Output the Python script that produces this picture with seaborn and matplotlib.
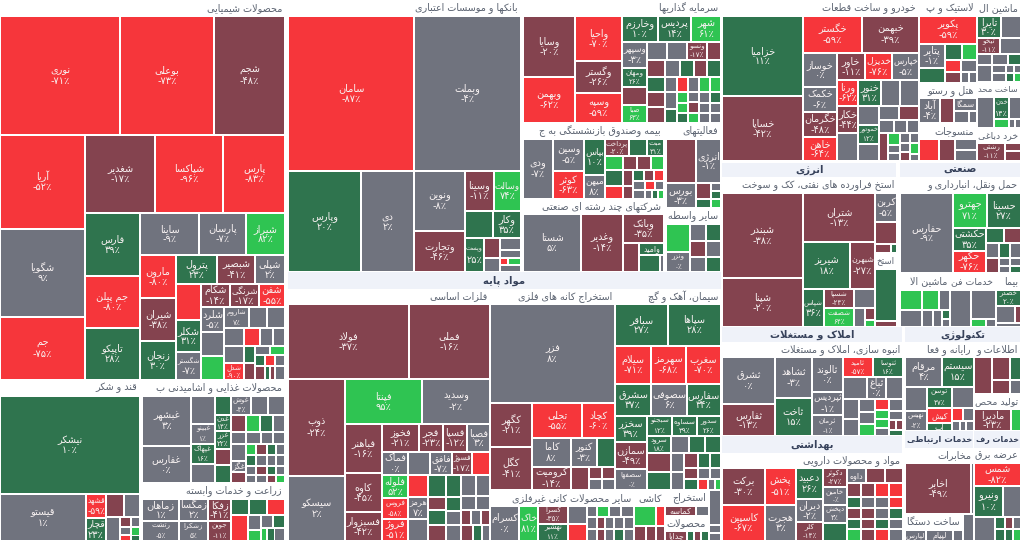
import matplotlib
matplotlib.use("Agg")
import matplotlib.pyplot as plt
import numpy as np
import pandas as pd
import seaborn as sns

# ---------- palette / value bins ----------
BIN_EDGES = [-50, -10, 10, 50]
PALETTE = sns.color_palette(["#F6363B", "#84434F", "#70737E", "#2F744E", "#2FC452"])
M, G, D, B, X = -30, 0, 30, 70, -70   # estimated change of cells without a readable label

# ---------- tree helpers ----------
def H(*c): return ("h", c)
def V(*c): return ("v", c)
def c(name, pct, area): return ("cell", name, pct, area)
def u(pct, area): return ("cell", "", pct, area)
def head(t, area): return ("head", t, area)
def band(t, area): return ("band", t, area)
def gap(area): return ("gap", area)

# ---------- data: chemical ----------
chem_rest = H(
    V(c("شلرد", -5, 575), u(G, 552), u(B, 552)),
    V(H(c("شاروم", 7, 525), u(G, 378), u(G, 378)),
      H(u(G, 360), u(X, 288), u(G, 234), u(G, 216)),
      H(V(u(G, 340), c("شدل", -90, 340)),
        V(u(D, 187), u(M, 187)),
        V(H(u(G, 135), u(B, 135)),
          H(u(D, 110), u(X, 110), u(G, 110)),
          H(u(M, 140), u(D, 70), u(M, 70), u(G, 140))))))
chem_small = H(
    V(u(X, 900), c("شکلر", 31, 800), c("شگستر", -7, 700)),
    V(H(c("شکام", -14, 667), c("شرنگی", -17, 667), c("شفن", -55, 598)), chem_rest))
chem_mid = H(
    V(c("مارون", -80, 1548), c("شیران", -38, 1548), c("زنجان", 30, 1404)),
    V(H(c("پترول", 23, 1189), c("شبصیر", -41, 1102), c("شپلی", 2, 870)), chem_small))
chemical = V(
    head("محصولات شیمیایی", 4560),
    H(c("نوری", -71, 14280), c("بوعلی", -73, 11186), c("شجم", -48, 8449)),
    H(V(c("آریا", -52, 7990), c("شگویا", 9, 7480), c("جم", -75, 5355)),
      V(H(c("شغدیر", -17, 5460), c("شپاکسا", -96, 5304), c("پارس", -83, 4836)),
        H(V(c("فارس", 39, 3465), c("جم پیلن", -80, 2860), c("تاپیکو", 28, 2860)),
          V(H(c("ساینا", -9, 2478), c("پارسان", -7, 1974), c("شیراز", 82, 1638)), chem_mid)))))

# ---------- data: sugar, food, farming ----------
sugar = V(
    head("قند و شکر", 2240),
    c("نیشکر", 10, 13720),
    H(c("قیستو", 1, 4042),
      V(c("قشهد", -59, 480), c("قچار", 23, 460)),
      V(H(u(M, 414), u(G, 368)),
        H(u(G, 336),
          V(u(M, 110), u(G, 90), u(X, 64)),
          V(u(G, 90), u(B, 78), u(D, 48))))))
food_tail = V(
    H(u(B, 110), u(M, 121), u(D, 99), u(G, 99)),
    H(u(D, 110), u(G, 121), u(G, 99), u(G, 99)),
    H(u(G, 90), u(M, 99), u(D, 81), u(G, 81)),
    H(u(G, 80), u(G, 88), u(M, 72), u(B, 72)))
food = V(
    head("محصولات غذایی و اشامیدنی ب", 2288),
    H(V(c("غبشهر", 3, 2450), c("غفارس", 0, 1813)),
      V(u(G, 672), c("غبینو", 1, 480), c("غپهاک", 16, 480), u(G, 456)),
      V(u(D, 304), c("غدن", 14, 256), c("غزر", 22, 288), u(M, 256), u(D, 288)),
      V(H(c("غوش", -4, 380), u(G, 323), u(G, 323)),
        H(u(M, 255), u(B, 238), u(D, 221), u(G, 204)),
        H(u(G, 180), u(G, 180), u(G, 144), u(G, 144)),
        H(V(u(G, 255), c("غگز", 0, 165), u(M, 165)), food_tail))),
    head("زراعت و خدمات وابسته", 2288),
    H(V(c("زماهان", 1, 814), c("رتشت", -5, 740)),
      V(c("زمگسا", 2, 638), c("زشکرا", 5, 580)),
      V(c("زفکا", -41, 506), c("جوین", -11, 460)),
      V(H(u(D, 288), u(D, 288), u(X, 288)),
        H(u(X, 442),
          V(u(G, 195), u(B, 143)),
          V(H(u(G, 156), u(D, 156)), H(u(B, 78), u(D, 100), u(G, 134)))))))

# ---------- data: banks ----------
banks = V(
    head("بانکها و موسسات اعتباری", 3728),
    H(c("سامان", -87, 19530), c("وبملت", -4, 16585)),
    H(c("وپارس", 20, 7373), c("دی", 2, 5353),
      V(c("ونوین", -8, 3060), c("وتجارت", -46, 2091)),
      V(H(c("وسینا", -11, 1160), c("وسالت", 74, 1080)),
        H(u(D, 756), c("وکار", 35, 756)),
        H(c("وپست", 25, 646),
          V(u(M, 320), u(G, 224)),
          V(u(G, 252), u(G, 168), H(u(X, 56), u(B, 91)), u(G, 147))))))

# ---------- data: investment group ----------
invest_small = V(
    H(u(G, 360), u(G, 360), c("ونسو", -17, 360), u(M, 252)),
    H(u(M, 306), u(G, 255), u(D, 238), u(M, 221), u(D, 238)),
    H(u(D, 270), u(G, 180), u(X, 165), u(G, 165), u(B, 165), u(B, 165)),
    H(V(u(M, 270), u(M, 288)), V(u(G, 204), u(D, 168)),
      V(u(B, 121), u(B, 110), u(D, 110)), V(u(G, 110), u(M, 121), u(B, 110)),
      V(H(u(G, 121), u(D, 121)), H(u(G, 110), u(G, 110)), H(u(G, 110), u(G, 110)))))
invest_top = H(
    V(c("وسایا", -20, 3172), c("وبهمن", -62, 2392)),
    V(c("واحیا", -70, 2115), c("وگستر", -26, 1504), c("وسپه", -59, 1410)),
    V(H(c("وخارزم", 10, 936), c("پردیس", 14, 858), c("شهر", 61, 780)),
      H(V(c("وسپهر", -3, 650), c("ومهان", 26, 475), u(M, 450), c("صبا", 63, 450)), invest_small)))
insurance = H(
    c("ودی", -7, 1800),
    V(c("وسین", -5, 992), c("کوثر", -63, 868)),
    V(c("بپاس", 10, 756), c("میهن", 8, 504)),
    V(H(c("پرداخت", -20, 408), u(D, 306), c("مبت", 31, 289)),
      H(u(B, 252), u(M, 196), u(M, 196), u(B, 182)),
      H(V(u(D, 288), u(X, 234)), V(u(M, 160), u(M, 130)),
        V(H(u(D, 121), u(M, 110), u(X, 110)),
          H(u(G, 108), u(X, 90), u(G, 81)),
          H(u(G, 108), u(G, 63), u(D, 54), u(B, 54))))))
holding = H(
    c("شستا", 5, 3364), c("وغدیر", -14, 2436),
    V(c("وبانک", -35, 1189),
      H(u(M, 464), V(c("وامید", 12, 300), H(u(D, 357), u(G, 68))))))
activity = V(
    head("فعالیتهای", 880),
    H(u(M, 1320), c("انرژی", -1, 1100)),
    H(c("بورس", -3, 750), V(u(M, 240), u(D, 135)), V(u(G, 80), u(D, 80), u(B, 90))),
    head("سایر واسطه", 880),
    H(V(u(B, 672), c("ونزر", 0, 480)),
      V(u(G, 272), u(M, 256), u(G, 240)),
      V(u(D, 255), u(G, 240), u(D, 225))))
invest = V(
    head("سرمایه گذاریها", 3168),
    invest_top,
    H(V(head("بیمه وصندوق بازنشستگی به ج", 2256), insurance,
        head("شرکتهای چند رشته ای صنعتی", 2115), holding),
      gap(298), activity))

# ---------- data: basic materials ----------
metal_tail = H(
    V(c("فلوله", 52, 598), c("فروس", -58, 546), c("فروژ", -51, 572)),
    V(u(X, 440), c("هرمز", 7, 440), u(G, 440)),
    V(u(D, 396), u(M, 234), u(D, 270), u(M, 288)),
    V(u(D, 330), u(D, 210), u(G, 210), u(G, 240)),
    V(H(u(G, 315), u(G, 294)), H(u(G, 210), u(G, 196)),
      H(u(M, 150), u(G, 150), u(M, 135)), H(u(M, 192), u(D, 144), u(G, 128))))
metals = V(
    head("فلزات اساسی", 3030),
    H(c("فولاد", -37, 9075), c("فملی", -16, 6075)),
    H(V(c("ذوب", -24, 5529), c("سیسکو", 2, 3705)),
      V(H(c("فپنتا", 95, 3465), c("وسدید", -2, 3060)),
        H(V(c("فباهنر", -16, 1813), c("کاوه", -45, 1443), c("فسبزوار", -42, 1073)),
          V(H(c("فخوز", -21, 1036), c("فجر", -23, 672), c("فسپا", -12, 672), c("فصبا", 3, 644)),
            H(c("فماک", 0, 598), u(G, 506), c("فافق", -7, 506), c("فسوژ", -17, 460), u(X, 414)),
            metal_tail)))))
mines = V(
    head("استخراج کانه های فلزی", 1875),
    c("فزر", 8, 12375),
    H(V(c("کگهر", -21, 1848), c("کگل", -41, 1806)),
      V(H(c("تجلی", -55, 1750), c("کچاد", -60, 1155)),
        H(c("کاما", 8, 1131), c("کنور", -3, 754), u(D, 522)),
        H(c("کرومیت", -14, 897), u(M, 414),
          V(H(u(M, 156), u(M, 156)), H(u(G, 143), u(G, 143)))))))
cement = V(
    head("سیمان، آهک و گچ", 1590),
    H(c("سباقر", 27, 2226), c("سپاها", 28, 2226)),
    H(c("سیلام", -71, 1368), c("سهرمز", -68, 1330), c("سغرب", -70, 1330)),
    H(c("سشرق", 37, 1152), c("سصوفی", 6, 1152), c("سفارس", 34, 1088)),
    H(V(c("سخزر", 39, 832), c("سمازن", -49, 864), c("سصفها", 0, 672)),
      V(H(c("سبجنو", 12, 500), c("سساوه", 39, 500), c("سدور", 26, 480)),
        H(c("سرود", 18, 408), u(G, 306), u(D, 272), u(D, 272)),
        H(V(u(M, 456), u(D, 432)), V(u(G, 247), u(G, 234)),
          V(H(u(M, 210), u(D, 180), u(D, 165)),
            H(u(M, 154), u(G, 132), u(G, 121)),
            H(u(D, 154), u(X, 110), u(G, 77), u(B, 66)))))))
nonmetal = V(
    head("سایر محصولات کانی غیرفلزی", 2304),
    H(c("کسرام", 0, 1015), c("خاک", 81, 665),
      V(c("کسرا", -35, 540), c("نهشیر", 11, 510)),
      V(u(G, 342), u(X, 323)),
      V(H(u(G, 110), u(B, 132), u(G, 132), u(G, 143)),
        H(u(G, 120), u(M, 96), u(G, 108), u(G, 120), u(G, 120)),
        H(u(G, 120), u(M, 96), u(G, 108), u(D, 120), u(G, 120)))))
tile = V(head("کاشی", 496), H(u(B, 440), u(X, 180)), H(u(M, 180), u(M, 150), u(M, 135)))
extract = V(head("استخراج", 704), H(c("کماسه", -30, 310), u(G, 130)),
            head("محصولات", 660), H(c("چدایا", -30, 220), u(D, 70), u(M, 70), u(D, 80)))
narrow = V(u(G, 420), u(G, 96), u(G, 96))
basic = V(
    band("مواد پایه", 7361),
    H(metals,
      V(H(mines, cement),
        H(nonmetal, tile, extract, narrow))))

# ---------- data: auto, tires, machinery ----------
auto_small = H(
    V(u(G, 399), c("خموتور", 12, 399), u(G, 357)),
    V(H(u(G, 280), u(M, 280)),
      H(u(G, 195), u(G, 169), u(G, 156)),
      H(u(M, 252), V(u(B, 144), u(G, 96), u(G, 96)),
        V(u(G, 100), u(G, 90), u(M, 90)), V(u(G, 90), u(B, 99), u(G, 63)))))
auto = V(
    head("خودرو و ساخت قطعات", 3152),
    H(V(c("خزامیا", 11, 6480), c("خساپا", -42, 5265)),
      V(H(c("خگستر", -59, 2183), c("خبهمن", -39, 2109)),
        H(V(c("خوساز", 0, 1156), c("خکمک", -6, 850), c("خگرمان", -48, 850), c("خاهن", -64, 816)),
          V(H(c("خاور", -11, 756), c("خدیزل", -76, 729), c("خپارس", -5, 729)),
            H(V(c("ورنا", -62, 546), c("خکار", -44, 567), u(G, 588)),
              V(H(c("خنور", 31, 598), u(G, 494), u(G, 494)), auto_small)))))))
tires = V(
    head("لاستیک و پ", 928),
    c("پکویر", -59, 1624),
    H(V(c("پتایر", -1, 624), u(D, 390)),
      V(H(u(D, 272), u(B, 240)), H(u(X, 192), u(G, 192)), H(u(M, 176), u(G, 88), u(G, 88)))),
    head("هتل و رستو", 870),
    H(c("آباد", -4, 525), u(M, 350), V(c("سمگا", 0, 299), H(u(G, 180), u(G, 96)))),
    head("منسوجات", 928),
    H(u(X, 440), u(M, 352), V(u(G, 242), u(G, 242))))
machine = V(
    head("ماشین ال", 704),
    H(c("تایرا", 30, 528), u(G, 440)),
    H(c("تیخو", -11, 368), u(G, 336)),
    H(V(u(G, 165), u(G, 255)),
      V(H(u(G, 176), u(D, 143)),
        H(V(u(G, 112), u(G, 126)), V(H(u(G, 64), u(G, 56)), H(u(D, 72), u(B, 63)))))),
    head("ساخت محد", 660),
    H(u(G, 527), V(c("خدن", 14, 330), u(B, 135)), V(u(G, 264), H(u(G, 54), u(G, 54)))),
    head("خرد دباغی", 660),
    H(c("رشتی", -11, 504), V(u(M, 128), u(M, 160))))

# ---------- data: energy, industrial ----------
energy = V(
    band("انرژی", 2450),
    head("استخ فراورده های نفتی، کک و سوخت", 2800),
    H(V(c("شبندر", -38, 6885), c("شپنا", -20, 3969)),
      V(c("شتران", -13, 3528),
        H(c("شیریز", 18, 2209), c("شبهرن", -27, 1175)),
        H(c("شپاس", 36, 798),
          V(c("شسپا", -24, 570), c("شصفت", 64, 570)),
          V(u(G, 399), H(u(G, 209), V(u(M, 120), u(B, 70)))))),
      V(c("کربن", -5, 638), u(M, 484), H(u(M, 144), u(D, 54)),
        head("استخ", 352), u(D, 1144), u(M, 132))))
transit = H(
    c("حفارس", -9, 4240),
    V(H(c("جهترو", 71, 1190), c("حسینا", 27, 1190)),
      H(V(c("حکشتی", 35, 759), c("حکهر", -76, 726)),
        V(H(u(D, 270), u(M, 255)),
          H(u(G, 195), u(D, 165), u(G, 165)),
          H(u(M, 195), V(u(G, 88), u(G, 77)), V(u(G, 88), u(D, 77)))))))
industrial = V(
    band("صنعتی", 1694),
    head("حمل ونقل، انبارداری و", 1936),
    transit,
    H(V(head("ماشین الا", 850),
        H(u(B, 440), u(B, 340), u(G, 220)),
        H(u(G, 374), u(G, 187), u(G, 153), V(u(D, 72), u(G, 64)))),
      V(head("خدمات فن", 782),
        H(u(G, 777), V(u(G, 725), H(u(B, 120), u(G, 80))))),
      V(head("بیما", 425),
        c("خصدر", 20, 400),
        H(u(G, 323), u(M, 102)),
        u(G, 100))))

# ---------- data: property, health ----------
property_ = V(
    band("املاک و مستغلات", 2715),
    head("انبوه سازی، املاک و مستغلات", 2715),
    H(V(c("ثشرق", 0, 2491), c("ثفارس", -13, 1696)),
      V(c("ثشاهد", -3, 1517), c("ثاخت", 15, 1406)),
      V(c("ثالوند", 0, 1085), c("ثپردیس", -1, 713), c("ثرمان", -1, 651)),
      V(H(c("ثامید", -57, 600), c("ثنوسا", 16, 600)),
        H(u(G, 528), c("ثباغ", 0, 418), u(G, 374)),
        H(V(u(G, 320), u(G, 272)),
          V(u(G, 208), u(G, 192), u(B, 192)),
          V(u(X, 154), u(B, 126), u(B, 126), u(G, 112)),
          V(u(G, 168), u(G, 126), H(u(M, 70), u(M, 70)), u(D, 84))))))
pharma = V(
    band("بهداشتی", 3077),
    head("مواد و محصولات دارویی", 2715),
    H(V(c("برکت", -30, 1591), c("کاسپین", -67, 1548)),
      V(c("پخش", -51, 1147), c("هجرت", 3, 1116)),
      V(c("دعبید", 26, 837), c("دیران", -2, 621), c("کلر", -14, 513)),
      V(c("دکوثر", -27, 456), c("خامین", 0, 432), c("دپخش", 3, 432), u(D, 432)),
      V(H(c("داوه", 0, 285), u(M, 285), u(M, 270)),
        H(u(M, 196), u(M, 196), u(X, 196), u(X, 196)),
        H(V(u(D, 154), u(M, 154), u(D, 140), u(B, 168)),
          V(u(G, 154), u(M, 154), u(M, 140), u(M, 168)),
          V(u(G, 154), u(G, 154), u(D, 140), u(X, 168)),
          V(u(X, 154), u(D, 154), u(G, 140), u(G, 168))))))

# ---------- data: technology, telecom, utilities ----------
computing = V(
    head("رایانه و فعا", 1035),
    H(c("مرقام", 4, 1110), c("سیستم", 15, 960)),
    H(V(u(G, 528), c("نهیس", -2, 440)),
      V(H(c("توسن", 37, 525), u(G, 462)),
        H(V(c("کیش", -60, 375), c("اپ", 20, 200)),
          V(H(u(X, 143), u(G, 143)), H(u(G, 80), u(G, 60), u(G, 80)))))))
infotech = V(
    head("اطلاعات و", 705),
    H(u(M, 666), V(H(u(M, 414), u(D, 253)), H(u(M, 252), u(G, 154)))),
    head("تولید محص", 705),
    H(c("مادیرا", -23, 814), u(B, 220)))
telecom = V(
    band("خدمات ارتباطی", 1173),
    head("مخابرات", 1035),
    H(c("اخابر", -49, 3366), u(G, 153)),
    H(V(head("ساخت دستگا", 928),
        H(c("لپارس", 0, 231), c("لپیام", 0, 297), u(G, 110))),
      u(G, 297)))
utilities = V(
    band("خدمات رف", 799),
    head("عرضه برق", 705),
    c("شمس", -82, 1081),
    H(c("ونیرو", 10, 899), u(G, 558)),
    H(u(G, 504), V(u(D, 120), u(D, 120)), V(u(M, 96), u(D, 96)), V(u(G, 96), u(B, 96))))
technology = V(
    band("تکنولوژی", 1740),
    H(computing, infotech),
    H(telecom, utilities))

layout = H(
    V(chemical, H(sugar, gap(322), food)),
    gap(1623),
    V(H(banks, gap(544), invest), basic),
    gap(541),
    V(H(auto, tires, machine),
      gap(598),
      H(energy, gap(492), industrial),
      H(V(property_, pharma), gap(428), technology)))

# ---------- layout engine ----------
def weight(n):
    if n[0] in ("h", "v"):
        return sum(weight(k) for k in n[1])
    return n[-1]

records = []
def place(n, x, y, w, h):
    if n[0] in ("h", "v"):
        total = weight(n)
        pos = 0.0
        for k in n[1]:
            f = weight(k) / total
            if n[0] == "h":
                place(k, x + pos * w, y, f * w, h)
            else:
                place(k, x, y + pos * h, w, f * h)
            pos += f
    elif n[0] == "cell":
        records.append(dict(kind="cell", name=n[1], pct=n[2], x=x, y=y, w=w, h=h))
    elif n[0] in ("head", "band"):
        records.append(dict(kind=n[0], name=n[1], pct=0, x=x, y=y, w=w, h=h))

place(layout, 0, 0, 1021, 541)
df = pd.DataFrame(records)

# ---------- Persian shaping (matplotlib has no Arabic text layout) ----------
FORMS = {
    "ا": (0xFE8D, 0xFE8E), "آ": (0xFE81, 0xFE82), "د": (0xFEA9, 0xFEAA), "ذ": (0xFEAB, 0xFEAC),
    "ر": (0xFEAD, 0xFEAE), "ز": (0xFEAF, 0xFEB0), "ژ": (0xFB8A, 0xFB8B), "و": (0xFEED, 0xFEEE),
    "ب": (0xFE8F, 0xFE90, 0xFE91, 0xFE92), "پ": (0xFB56, 0xFB57, 0xFB58, 0xFB59),
    "ت": (0xFE95, 0xFE96, 0xFE97, 0xFE98), "ث": (0xFE99, 0xFE9A, 0xFE9B, 0xFE9C),
    "ج": (0xFE9D, 0xFE9E, 0xFE9F, 0xFEA0), "چ": (0xFB7A, 0xFB7B, 0xFB7C, 0xFB7D),
    "ح": (0xFEA1, 0xFEA2, 0xFEA3, 0xFEA4), "خ": (0xFEA5, 0xFEA6, 0xFEA7, 0xFEA8),
    "س": (0xFEB1, 0xFEB2, 0xFEB3, 0xFEB4), "ش": (0xFEB5, 0xFEB6, 0xFEB7, 0xFEB8),
    "ص": (0xFEB9, 0xFEBA, 0xFEBB, 0xFEBC), "ض": (0xFEBD, 0xFEBE, 0xFEBF, 0xFEC0),
    "ط": (0xFEC1, 0xFEC2, 0xFEC3, 0xFEC4), "ظ": (0xFEC5, 0xFEC6, 0xFEC7, 0xFEC8),
    "ع": (0xFEC9, 0xFECA, 0xFECB, 0xFECC), "غ": (0xFECD, 0xFECE, 0xFECF, 0xFED0),
    "ف": (0xFED1, 0xFED2, 0xFED3, 0xFED4), "ق": (0xFED5, 0xFED6, 0xFED7, 0xFED8),
    "ک": (0xFB8E, 0xFB8F, 0xFB90, 0xFB91), "گ": (0xFB92, 0xFB93, 0xFB94, 0xFB95),
    "ل": (0xFEDD, 0xFEDE, 0xFEDF, 0xFEE0), "م": (0xFEE1, 0xFEE2, 0xFEE3, 0xFEE4),
    "ن": (0xFEE5, 0xFEE6, 0xFEE7, 0xFEE8), "ه": (0xFEE9, 0xFEEA, 0xFEEB, 0xFEEC),
    "ی": (0xFBFC, 0xFBFD, 0xFBFE, 0xFBFF),
}
LAM_ALEF = {"ا": (0xFEFB, 0xFEFC), "آ": (0xFEF5, 0xFEF6)}

def shape(s):
    out = []
    i = 0
    prev_joins = False
    while i < len(s):
        ch = s[i]
        if ch not in FORMS:
            out.append(ch); prev_joins = False; i += 1; continue
        if ch == "ل" and i + 1 < len(s) and s[i + 1] in LAM_ALEF:
            out.append(chr(LAM_ALEF[s[i + 1]][1 if prev_joins else 0]))
            prev_joins = False; i += 2; continue
        forms = FORMS[ch]
        next_ok = i + 1 < len(s) and s[i + 1] in FORMS and len(forms) == 4
        if prev_joins and next_ok: g = forms[3]
        elif prev_joins: g = forms[1]
        elif next_ok: g = forms[2]
        else: g = forms[0]
        out.append(chr(g))
        prev_joins = len(forms) == 4
        i += 1
    return "".join(reversed(out))

DIGITS = str.maketrans("0123456789", "۰۱۲۳۴۵۶۷۸۹")
def pct_label(p):
    return ("-" if p < 0 else "") + str(abs(int(p))).translate(DIGITS) + "٪"

# ---------- drawing ----------
sns.set_theme(style="white", rc={"axes.facecolor": "white", "figure.facecolor": "white"})
plt.rcParams["font.family"] = ["DejaVu Sans"]
fig = plt.figure(figsize=(10.24, 5.43), dpi=100)
ax = fig.add_axes([0, 0, 1, 1])
ax.set_xlim(0, 1024)
ax.set_ylim(543, 0)
ax.axis("off")
renderer = fig.canvas.get_renderer()

def fit(text, avail, minimum=4.6):
    """Shrink a label that is wider than its cell."""
    width = text.get_window_extent(renderer).width
    if width > avail:
        text.set_fontsize(max(minimum, text.get_fontsize() * avail / width))

INSET = 0.8
CELL_TEXT = "#F8F2F2"
for r in df.itertuples():
    if r.kind == "cell":
        color = PALETTE[int(np.digitize(r.pct, BIN_EDGES))]
        bar = ax.bar(r.x + INSET, r.h - 2 * INSET, width=r.w - 2 * INSET,
                     bottom=r.y + INSET, align="edge", color=color, linewidth=0)[0]
        if r.name:
            cx, cy = r.x + r.w / 2, r.y + r.h / 2
            if r.h < 15.5:
                labels = [ax.text(cx, cy, shape(r.name), ha="center", va="center",
                                  fontsize=5.8, color=CELL_TEXT)]
            else:
                small = r.h < 22
                size = 5.2 if small else 7.0
                off = r.h / 4 - 0.2 if small else 5.4
                labels = [ax.text(cx, cy - off, shape(r.name), ha="center", va="center",
                                  fontsize=size, color=CELL_TEXT),
                          ax.text(cx, cy + off, pct_label(r.pct), ha="center", va="center",
                                  fontsize=size, color=CELL_TEXT)]
            for k in labels:
                fit(k, r.w - 2)
                k.set_clip_path(bar)
    elif r.kind == "head":
        bar = ax.bar(r.x, r.h, width=r.w, bottom=r.y, align="edge", color="white", linewidth=0)[0]
        k = ax.text(r.x + r.w - 3, r.y + r.h / 2, shape(r.name), ha="right", va="center",
                    fontsize=6.9, color="#5A6270")
        fit(k, r.w - 4)
        k.set_clip_path(bar)
    else:
        bar = ax.bar(r.x + 0.5, r.h - 0.5, width=r.w - 1, bottom=r.y, align="edge",
                     color="#EFF2F9", linewidth=0)[0]
        k = ax.text(r.x + r.w / 2, r.y + r.h / 2, shape(r.name), ha="center", va="center",
                    fontsize=7.2, fontweight="bold", color="#36415A")
        fit(k, r.w - 4)
        k.set_clip_path(bar)

fig.savefig("out.png", dpi=100)
